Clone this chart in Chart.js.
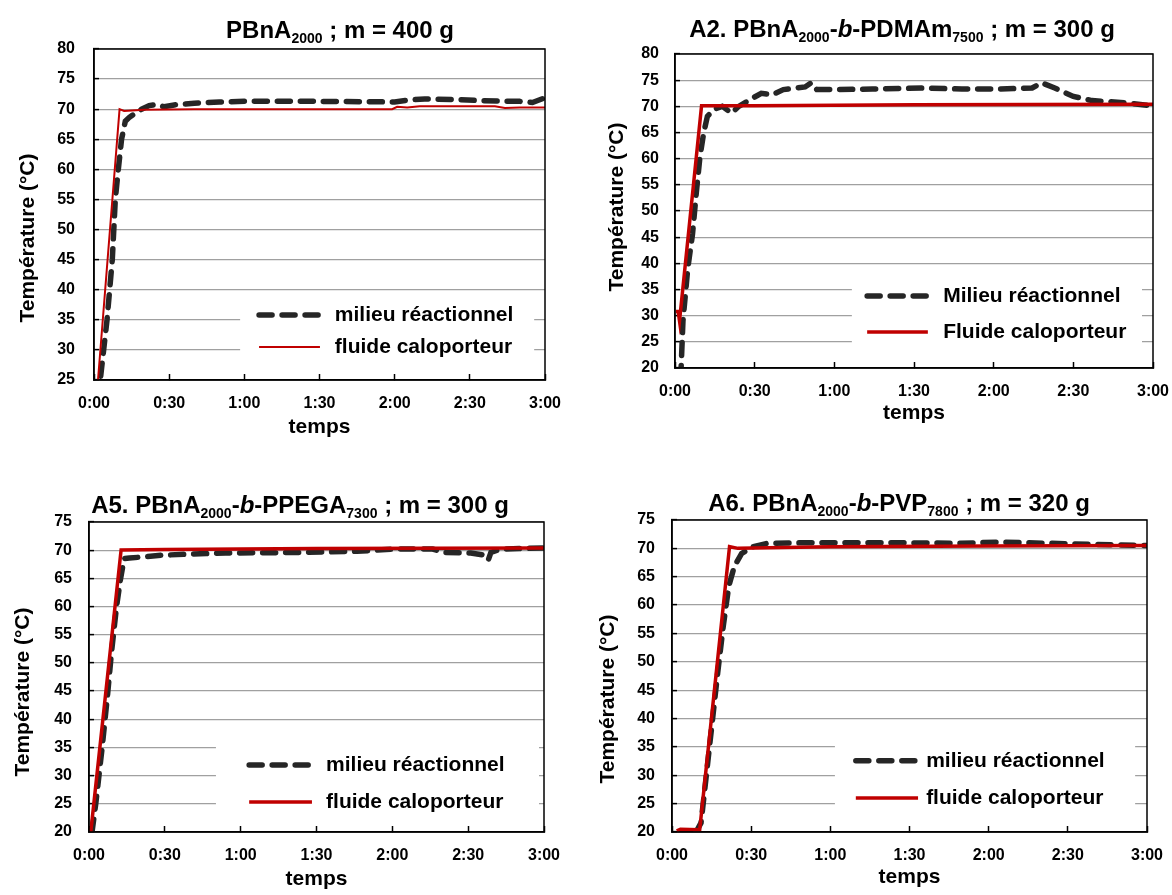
<!DOCTYPE html>
<html lang="fr">
<head>
<meta charset="UTF-8">
<title>Température : milieu réactionnel / fluide caloporteur</title>
<script src="https://cdn.jsdelivr.net/npm/chart.js"></script>
<style>
  body { margin: 0; background: #fff; }
  #page { position: relative; width: 1172px; height: 895px; overflow: hidden; font-family: 'Liberation Sans', Arial, sans-serif; }
  canvas { position: absolute; }
  .titre { position: absolute; width: 600px; text-align: center; font-weight: bold; font-size: 24px; line-height: 24px; color: #000; white-space: nowrap; }
  .titre sub { font-size: 14px; vertical-align: -5px; line-height: 0; }
  .ytitre { position: absolute; width: 300px; height: 24px; line-height: 24px; text-align: center; font-weight: bold; font-size: 21px; color: #000; white-space: nowrap; transform: rotate(-90deg); }
</style>
</head>
<body>
<div id="page">
  <canvas id="c1" width="586" height="440" style="left:0;top:0"></canvas>
  <canvas id="c2" width="586" height="440" style="left:586px;top:0"></canvas>
  <canvas id="c3" width="586" height="455" style="left:0;top:440px"></canvas>
  <canvas id="c4" width="586" height="455" style="left:586px;top:440px"></canvas>
  <div class="titre" style="left:40px;top:18px">PBnA<sub>2000</sub> ; m = 400 g</div>
  <div class="titre" style="left:602px;top:17px">A2. PBnA<sub>2000</sub>-<i>b</i>-PDMAm<sub>7500</sub> ; m = 300 g</div>
  <div class="titre" style="left:0;top:493px">A5. PBnA<sub>2000</sub>-<i>b</i>-PPEGA<sub>7300</sub> ; m = 300 g</div>
  <div class="titre" style="left:599px;top:491px">A6. PBnA<sub>2000</sub>-<i>b</i>-PVP<sub>7800</sub> ; m = 320 g</div>
  <div class="ytitre" style="left:-123px;top:226px">Température (°C)</div>
  <div class="ytitre" style="left:466px;top:195px">Température (°C)</div>
  <div class="ytitre" style="left:-128px;top:680px">Température (°C)</div>
  <div class="ytitre" style="left:457px;top:687px">Température (°C)</div>
</div>

<script>
  const FONT = "'Liberation Sans', Arial, sans-serif";
  const NOIR = '#262626';
  const ROUGE = '#c00000';

  // temps en minutes, températures en °C
  const etiquettesTemps = ['0:00', '0:30', '1:00', '1:30', '2:00', '2:30', '3:00'];

  // PBnA2000 ; m = 400 g
  const t1Milieu = [1.5, 2.5, 5.2, 7.3, 8.5, 9.7, 11, 12.5, 14, 16, 19, 22, 25, 28, 32, 40, 50, 60, 90, 120, 125, 132, 145, 155, 170, 175, 180];
  const milieu1 = [18, 25, 35, 45, 55, 60, 65, 68, 68.6, 69.2, 70, 70.6, 70.8, 70.4, 70.7, 71, 71.2, 71.3, 71.3, 71.2, 71.5, 71.7, 71.6, 71.4, 71.3, 71.1, 71.9];
  const t1Fluide = [1.5, 10.2, 12, 20, 40, 80, 119, 121, 125, 130, 145, 160, 164, 170, 180];
  const fluide1 = [24.5, 70, 69.7, 69.9, 70, 70, 70, 70.4, 70.3, 70.5, 70.5, 70.5, 70.2, 70.3, 70.3];

  // A2. PBnA2000-b-PDMAm7500 ; m = 300 g
  const t2Milieu = [2, 2.3, 3, 4.8, 6.6, 8, 9.4, 10.8, 12.2, 15, 17.8, 21.3, 24, 28.3, 32.5, 36.6, 40.8, 49, 51.3, 53.4, 60.4, 74.4, 94, 108, 122, 134.5, 138, 143, 150, 157, 166.6, 180];
  const milieu2 = [18, 20, 29, 39, 45.6, 53.4, 60.4, 64.9, 68.1, 69.5, 70, 68.7, 70, 71.3, 72.5, 72.2, 73.2, 73.7, 74.5, 73.2, 73.2, 73.3, 73.5, 73.3, 73.3, 73.5, 74.5, 73.5, 71.9, 71.1, 70.8, 70.1];
  const t2Fluide = [0.3, 1.2, 1.7, 10, 30, 90, 180];
  const fluide2 = [30.8, 30.8, 29, 70.1, 70.1, 70.3, 70.4];

  // A5. PBnA2000-b-PPEGA7300 ; m = 300 g
  const t3Milieu = [1.2, 2.7, 5.2, 7.2, 8.9, 10.9, 12.4, 13.9, 16, 21.3, 28.8, 39.2, 54, 84, 106, 121, 136, 140.5, 151, 157, 158, 159, 163, 180];
  const milieu3 = [20, 25.1, 35, 43.7, 51.9, 60, 64.7, 68.5, 68.6, 68.8, 69.1, 69.3, 69.5, 69.6, 69.8, 70.2, 70.2, 69.6, 69.5, 69.1, 68.3, 69.6, 70.2, 70.4];
  const t3Fluide = [0.7, 12.7, 30, 90, 180];
  const fluide3 = [20, 70.05, 70.1, 70.3, 70.4];

  // A6. PBnA2000-b-PVP7800 ; m = 320 g
  const t4Milieu = [8.9, 11, 13.1, 15.2, 17.3, 19.4, 21.5, 23.6, 26.4, 30.7, 36.3, 53, 81, 109.4, 123.5, 151.6, 180];
  const milieu4 = [19.8, 21.6, 30.4, 39.2, 48, 56.2, 63.3, 66.8, 69.1, 70.3, 70.9, 71, 71, 70.9, 71.1, 70.8, 70.5];
  const t4Fluide = [1.8, 3.2, 10.5, 21.8, 25, 60, 120, 180];
  const fluide4 = [20.2, 20.5, 20.4, 70.3, 70, 70.3, 70.4, 70.5];

  function points(t, v) {
    return t.map((x, i) => ({ x: x, y: v[i] }));
  }

  // légende dans un cadre blanc à l'intérieur de la zone de tracé + cadre noir
  const legendeEncadree = {
    id: 'legendeEncadree',
    beforeDatasetsDraw(chart, args, opts) {
      const a = chart.chartArea, ctx = chart.ctx;
      const px = f => a.left + f * (a.right - a.left);
      const py = f => a.top + f * (a.bottom - a.top);
      ctx.save();
      ctx.fillStyle = '#fff';
      ctx.fillRect(px(opts.box[0]), py(opts.box[1]), px(opts.box[2]) - px(opts.box[0]), py(opts.box[3]) - py(opts.box[1]));
      chart.data.datasets.forEach((ds, i) => {
        const y = py(opts.rows[i]);
        ctx.beginPath();
        ctx.strokeStyle = ds.borderColor;
        ctx.lineWidth = ds.borderWidth;
        ctx.lineCap = ds.borderCapStyle || 'butt';
        ctx.setLineDash(ds.borderDash || []);
        ctx.moveTo(px(opts.sample[0]), y);
        ctx.lineTo(px(opts.sample[1]), y);
        ctx.stroke();
        ctx.setLineDash([]);
        ctx.fillStyle = '#000';
        ctx.font = 'bold 21px ' + FONT;
        ctx.textAlign = 'left';
        ctx.textBaseline = 'middle';
        ctx.fillText(ds.label, px(opts.textX), y);
      });
      ctx.restore();
    },
    afterDraw(chart) {
      const a = chart.chartArea, ctx = chart.ctx;
      ctx.save();
      ctx.strokeStyle = '#000';
      ctx.lineWidth = 1.5;
      ctx.strokeRect(a.left, a.top, a.right - a.left, a.bottom - a.top);
      ctx.restore();
    }
  };
  Chart.register(legendeEncadree);

  function panneau(id, p) {
    new Chart(document.getElementById(id), {
      type: 'line',
      data: {
        datasets: [
          {
            label: p.labels[0],
            data: points(p.tMilieu, p.milieu),
            borderColor: NOIR,
            borderWidth: 5.5,
            borderDash: [13, 10],
            borderCapStyle: 'round',
            pointRadius: 0,
            order: 1
          },
          {
            label: p.labels[1],
            data: points(p.tFluide, p.fluide),
            borderColor: ROUGE,
            borderWidth: p.rougeLarg,
            pointRadius: 0,
            order: 0
          }
        ]
      },
      options: {
        responsive: false,
        animation: false,
        layout: { padding: p.padding },
        plugins: {
          legend: { display: false },
          tooltip: { enabled: false },
          legendeEncadree: p.legende
        },
        scales: {
          x: {
            type: 'linear',
            min: 0,
            max: 180,
            // hauteur fixe, et les étiquettes extrêmes ne rognent pas la zone de tracé
            afterFit: s => { s.height = p.xHaut; s.paddingLeft = 0; s.paddingRight = 0; },
            ticks: {
              stepSize: 30,
              padding: 20,
              color: '#000',
              font: { family: FONT, size: 16, weight: 'bold' },
              callback: v => etiquettesTemps[v / 30]
            },
            grid: { drawOnChartArea: false, tickLength: -6, tickColor: '#000', tickWidth: 1.5 },
            border: { color: '#000', width: 1.5 },
            title: { display: true, text: 'temps', color: '#000', padding: 0, font: { family: FONT, size: 21, weight: 'bold' } }
          },
          y: {
            min: p.yMin,
            max: p.yMax,
            afterFit: s => { s.width = p.yLarg; s.paddingTop = 0; s.paddingBottom = 0; },
            ticks: {
              stepSize: 5,
              padding: p.yPad,
              color: '#000',
              font: { family: FONT, size: 16, weight: 'bold' }
            },
            grid: { color: '#a0a0a0', lineWidth: 1.2, tickLength: -5, tickColor: '#000', tickWidth: 1.5 },
            border: { color: '#000', width: 1.5 }
          }
        }
      }
    });
  }

  panneau('c1', {
    tMilieu: t1Milieu, milieu: milieu1, tFluide: t1Fluide, fluide: fluide1,
    labels: ['milieu réactionnel', 'fluide caloporteur'],
    rougeLarg: 2, yMin: 25, yMax: 80,
    padding: { left: 14, top: 49, right: 41, bottom: 0 }, yLarg: 80, xHaut: 60, yPad: 24,
    legende: { box: [0.324, 0.758, 0.976, 0.958], rows: [0.804, 0.900], sample: [0.366, 0.501], textX: 0.534 }
  });

  panneau('c2', {
    tMilieu: t2Milieu, milieu: milieu2, tFluide: t2Fluide, fluide: fluide2,
    labels: ['Milieu réactionnel', 'Fluide caloporteur'],
    rougeLarg: 3.5, yMin: 20, yMax: 80,
    padding: { left: 17, top: 54, right: 19, bottom: 14 }, yLarg: 72, xHaut: 58, yPad: 21,
    legende: { box: [0.370, 0.704, 0.977, 0.959], rows: [0.771, 0.885], sample: [0.402, 0.529], textX: 0.561 }
  });

  panneau('c3', {
    tMilieu: t3Milieu, milieu: milieu3, tFluide: t3Fluide, fluide: fluide3,
    labels: ['milieu réactionnel', 'fluide caloporteur'],
    rougeLarg: 3.5, yMin: 20, yMax: 75,
    padding: { left: 9, top: 82, right: 42, bottom: 3 }, yLarg: 80, xHaut: 60, yPad: 22,
    legende: { box: [0.279, 0.680, 0.989, 0.968], rows: [0.784, 0.903], sample: [0.352, 0.490], textX: 0.521 }
  });

  panneau('c4', {
    tMilieu: t4Milieu, milieu: milieu4, tFluide: t4Fluide, fluide: fluide4,
    labels: ['milieu réactionnel', 'fluide caloporteur'],
    rougeLarg: 3.5, yMin: 20, yMax: 75,
    padding: { left: 8, top: 80, right: 25, bottom: 5 }, yLarg: 78, xHaut: 58, yPad: 22,
    legende: { box: [0.343, 0.683, 0.975, 0.968], rows: [0.772, 0.891], sample: [0.387, 0.518], textX: 0.535 }
  });
</script>
</body>
</html>
